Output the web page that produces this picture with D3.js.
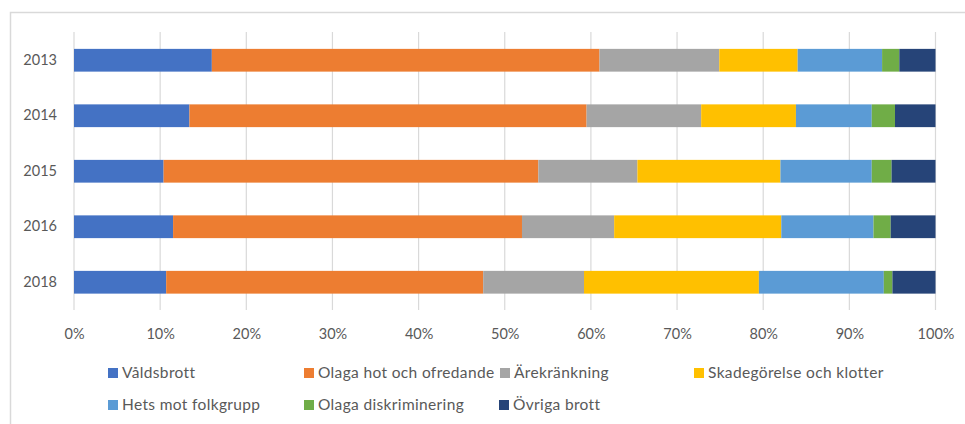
<!DOCTYPE html>
<html><head><meta charset="utf-8">
<script src="https://cdn.jsdelivr.net/npm/d3@7"></script>
<style>body{margin:0;background:#fff}svg{display:block}</style>
</head><body>
<svg id="c" width="965" height="424"></svg>
<script>
const years = ["2013","2014","2015","2016","2018"];
const seriesNames = ["Våldsbrott","Olaga hot och ofredande","Ärekränkning","Skadegörelse och klotter","Hets mot folkgrupp","Olaga diskriminering","Övriga brott"];
const colors = ["#4472C4","#ED7D31","#A5A5A5","#FFC000","#5B9BD5","#70AD47","#264478"];
const valdsbrott   = [16.0, 13.4, 10.4, 11.5, 10.7];
const olagaHot     = [45.0, 46.1, 43.5, 40.5, 36.8];
const arekrankning = [13.9, 13.3, 11.5, 10.7, 11.7];
const skadegorelse = [9.1, 11.0, 16.6, 19.4, 20.3];
const hets         = [9.8, 8.8, 10.6, 10.7, 14.5];
const diskriminering = [2.0, 2.7, 2.3, 2.0, 1.0];
const ovriga       = [4.2, 4.7, 5.1, 5.2, 5.0];
const xTicks = [0,0.1,0.2,0.3,0.4,0.5,0.6,0.7,0.8,0.9,1];

const allSeries = [valdsbrott, olagaHot, arekrankning, skadegorelse, hets, diskriminering, ovriga];
const rows = years.map((y,i)=>{const o={year:y};seriesNames.forEach((n,k)=>o[n]=allSeries[k][i]);return o;});
rows.forEach(r=>{const t=d3.sum(seriesNames,n=>r[n]);seriesNames.forEach(n=>r[n]=r[n]/t);});
const stacked = d3.stack().keys(seriesNames)(rows);

const svg = d3.select("#c");
const font = "Lato, 'Open Sans', sans-serif";
const txt = "#595959";

// chart frame
svg.append("rect").attr("x",10.5).attr("y",12.5).attr("width",970).attr("height",430)
  .attr("fill","none").attr("stroke","#d9d9d9").attr("stroke-width",1.5);

const x = d3.scaleLinear().domain([0,1]).range([74,935.5]);
const y = d3.scaleBand().domain(years).range([32.5,310]).paddingInner(0.59).paddingOuter(0.295);

// gridlines
svg.append("g").selectAll("line").data(xTicks).join("line")
  .attr("x1",d=>x(d)).attr("x2",d=>x(d)).attr("y1",32).attr("y2",310)
  .attr("stroke","#d9d9d9").attr("stroke-width",1.2);

// bars
svg.append("g").selectAll("g").data(stacked).join("g")
  .attr("fill",(d,i)=>colors[i])
  .selectAll("rect").data(d=>d).join("rect")
  .attr("x",d=>x(d[0])).attr("width",d=>x(d[1])-x(d[0]))
  .attr("y",d=>y(d.data.year)).attr("height",y.bandwidth());

// x axis
const xa = svg.append("g").attr("transform","translate(0,310)")
  .call(d3.axisBottom(x).tickValues(xTicks).tickFormat(d3.format(".0%")).tickSize(0).tickPadding(19));
xa.select(".domain").remove();
xa.selectAll("text").attr("fill",txt).style("font-family",font).style("font-size","14.5px");

// y axis
const ya = svg.append("g").attr("transform","translate(74,0)")
  .call(d3.axisLeft(y).tickSize(0).tickPadding(17));
ya.select(".domain").remove();
ya.selectAll("text").attr("fill",txt).style("font-family",font).style("font-size","14.5px");

// legend
const legendPos = [[108,373],[304,373],[500,373],[694,373],[108,405],[304,405],[499,405]];
const lg = svg.append("g").selectAll("g").data(seriesNames).join("g")
  .attr("transform",(d,i)=>`translate(${legendPos[i][0]},${legendPos[i][1]})`);
lg.append("rect").attr("x",0).attr("y",-5).attr("width",10).attr("height",10).attr("fill",(d,i)=>colors[i]);
lg.append("text").attr("x",14).attr("y",0).attr("dy","0.35em").text(d=>d)
  .attr("fill",txt).style("font-family",font).style("font-size","15.5px").style("letter-spacing","0.35px");
</script>
</body></html>
